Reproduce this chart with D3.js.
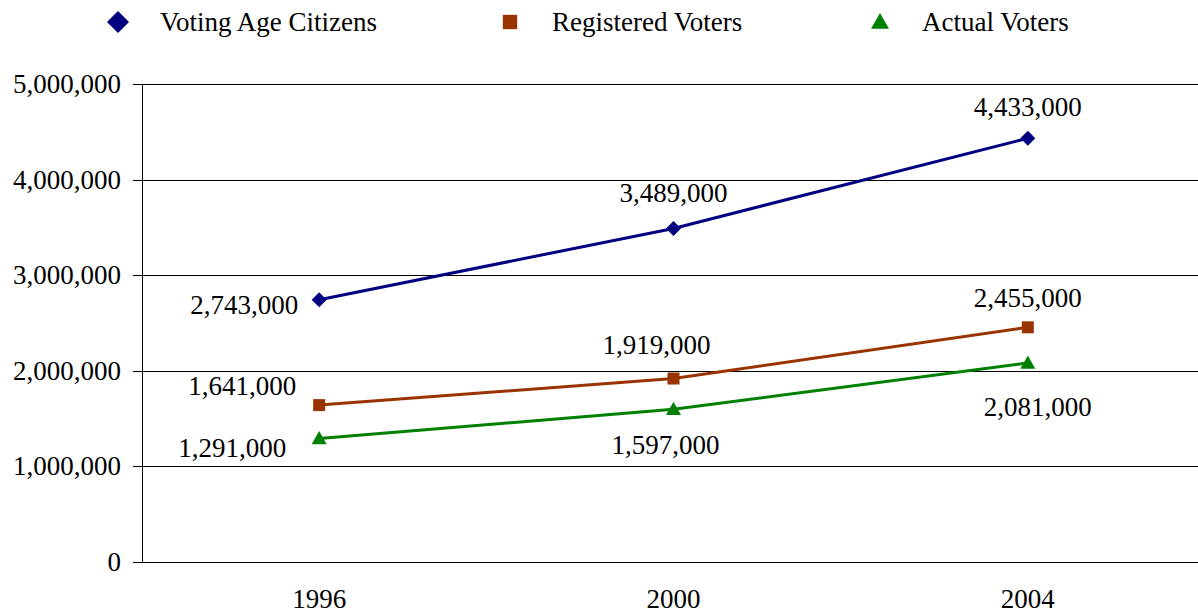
<!DOCTYPE html>
<html>
<head>
<meta charset="utf-8">
<script src="https://d3js.org/d3.v7.min.js"></script>
</head>
<body style="margin:0">
<div id="chart"></div>
<script>
const years = ["1996", "2000", "2004"];
const votingAge = [2743000, 3489000, 4433000];
const registered = [1641000, 1919000, 2455000];
const actual = [1291000, 1597000, 2081000];
const yTicks = [0, 1000000, 2000000, 3000000, 4000000, 5000000];

// label offsets (dx, dy) relative to each point
const labelOffsets = {
  "Voting Age Citizens": [[-75, 14], [0, -26], [0, -22]],
  "Registered Voters": [[-77, -10], [-17, -25], [0, -20]],
  "Actual Voters": [[-87, 18], [-8, 45], [10, 53]]
};

const series = [
  { name: "Voting Age Citizens", values: votingAge, color: "#000080", shape: "diamond" },
  { name: "Registered Voters", values: registered, color: "#993300", shape: "square" },
  { name: "Actual Voters", values: actual, color: "#008000", shape: "triangle" }
];

function marker(shape, r) {
  if (shape === "diamond") return `M0,${-r}L${r},0L0,${r}L${-r},0Z`;
  if (shape === "square") return `M${-r * 0.8},${-r * 0.8}h${r * 1.6}v${r * 1.6}h${-r * 1.6}Z`;
  return `M0,${-r}L${r},${r * 0.75}L${-r},${r * 0.75}Z`;
}

const W = 1198, H = 614;
const margin = { left: 142, right: -7, top: 84, bottom: 52 };
const font = '"Liberation Serif"';

const svg = d3.select("#chart").append("svg")
  .attr("width", W).attr("height", H);

const x = d3.scaleBand().domain(years).range([margin.left, W - margin.right]);
const y = d3.scaleLinear().domain([0, 5000000]).range([H - margin.bottom, margin.top]);

function label(sel) {
  return sel.style("font-family", font).style("font-size", "27px").attr("fill", "#000");
}

// gridlines
svg.append("g").selectAll("line").data(yTicks).enter().append("line")
  .attr("x1", margin.left - 9).attr("x2", W)
  .attr("y1", d => Math.round(y(d)) + 0.5).attr("y2", d => Math.round(y(d)) + 0.5)
  .attr("stroke", "#000").attr("stroke-width", 1);

// y axis line
svg.append("line")
  .attr("x1", margin.left + 0.5).attr("x2", margin.left + 0.5)
  .attr("y1", y(5000000)).attr("y2", y(0))
  .attr("stroke", "#000");

// y labels
svg.append("g").selectAll("text").data(yTicks).enter().append("text")
  .attr("x", 121).attr("y", d => y(d) + 9)
  .attr("text-anchor", "end")
  .call(label)
  .text(d => d3.format(",")(d));

// x labels
svg.append("g").selectAll("text").data(years).enter().append("text")
  .attr("x", d => x(d) + x.bandwidth() / 2).attr("y", 608)
  .attr("text-anchor", "middle")
  .call(label)
  .text(d => d);

const line = d3.line()
  .x((d, i) => x(years[i]) + x.bandwidth() / 2)
  .y(d => y(d));

series.forEach(s => {
  const g = svg.append("g");
  g.append("path").datum(s.values)
    .attr("d", line).attr("fill", "none")
    .attr("stroke", s.color).attr("stroke-width", 3);
  g.selectAll("path.m").data(s.values).enter().append("path")
    .attr("class", "m")
    .attr("d", marker(s.shape, 7.5))
    .attr("transform", (d, i) => `translate(${x(years[i]) + x.bandwidth() / 2},${y(d)})`)
    .attr("fill", s.color);
  g.selectAll("text").data(s.values).enter().append("text")
    .attr("x", (d, i) => x(years[i]) + x.bandwidth() / 2 + labelOffsets[s.name][i][0])
    .attr("y", (d, i) => y(d) + labelOffsets[s.name][i][1])
    .attr("text-anchor", "middle")
    .call(label)
    .text(d => d3.format(",")(d));
});

// legend
const legendX = [118, 510, 880];
const leg = svg.append("g").selectAll("g").data(series).enter().append("g")
  .attr("transform", (d, i) => `translate(${legendX[i]},22)`);
leg.append("path")
  .attr("d", d => marker(d.shape, d.shape === "diamond" ? 11 : 9))
  .attr("fill", d => d.color);
leg.append("text").attr("x", 42).attr("y", 9)
  .call(label)
  .text(d => d.name);
</script>
</body>
</html>
